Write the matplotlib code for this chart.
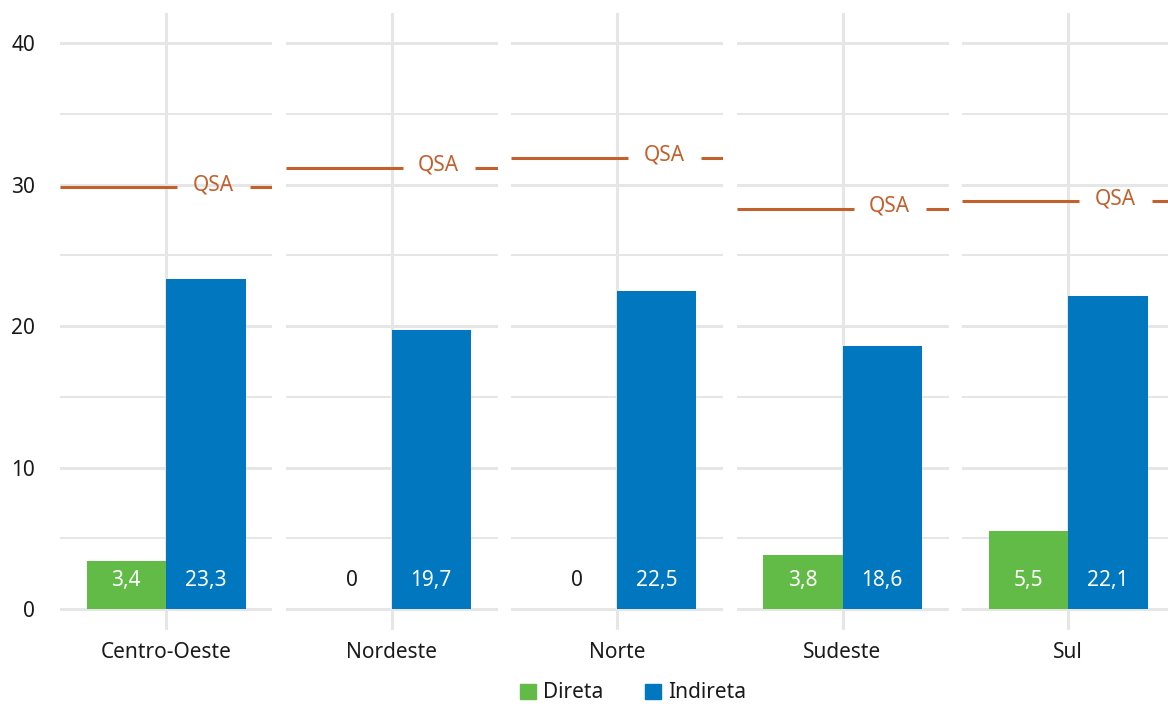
import matplotlib.pyplot as plt
from matplotlib.patches import Patch

plt.rcParams["font.family"] = ["Noto Sans", "DejaVu Sans"]

regions = ["Centro-Oeste", "Nordeste", "Norte", "Sudeste", "Sul"]
direta = [3.4, 0, 0, 3.8, 5.5]
indireta = [23.3, 19.7, 22.5, 18.6, 22.1]
qsa = [29.8, 31.2, 31.9, 28.3, 28.8]

GREEN = "#62BB46"
BLUE = "#0077BF"
ORANGE = "#C2602E"
GRID = "#E6E6E6"
TEXT = "#1A1A1A"
FS = 15

W, H = 1168, 704
fig = plt.figure(figsize=(W / 100, H / 100), dpi=100)

x_lo, x_hi = 0.4, 1.6
y_lo, y_hi = -1.48, 42.12
panel_w = 212
bar_w = 0.45


def fmt(v):
    return f"{v:g}".replace(".", ",")


for i, region in enumerate(regions):
    left = 60 + 225.5 * i
    ax = fig.add_axes([left / W, (H - 630) / H, panel_w / W, 617 / H])
    ax.set_xlim(x_lo, x_hi)
    ax.set_ylim(y_lo, y_hi)
    for s in ax.spines.values():
        s.set_visible(False)

    ax.set_yticks([0, 10, 20, 30, 40])
    ax.set_yticks([5, 15, 25, 35], minor=True)
    ax.set_xticks([1])
    ax.set_xticklabels([region], fontsize=FS, color=TEXT)
    ax.tick_params(axis="both", which="both", length=0)
    ax.tick_params(axis="x", pad=9)
    if i == 0:
        ax.set_yticklabels(["0", "10", "20", "30", "40"], fontsize=FS, color=TEXT)
        ax.tick_params(axis="y", pad=18)
    else:
        ax.set_yticklabels([])
    ax.grid(axis="y", which="major", color=GRID, lw=2.2)
    ax.grid(axis="y", which="minor", color=GRID, lw=1.4)
    ax.grid(axis="x", which="major", color=GRID, lw=2.2)
    ax.set_axisbelow(True)

    ax.bar(1 - bar_w / 2, direta[i], width=bar_w, color=GREEN, zorder=2)
    ax.bar(1 + bar_w / 2, indireta[i], width=bar_w, color=BLUE, zorder=2)
    ax.text(1 - bar_w / 2, 2.0, fmt(direta[i]), ha="center", va="center",
            fontsize=FS, color="white" if direta[i] > 0 else TEXT, zorder=3)
    ax.text(1 + bar_w / 2, 2.0, fmt(indireta[i]), ha="center", va="center",
            fontsize=FS, color="white", zorder=3)

    # QSA reference line with a gap for its label
    span = x_hi - x_lo
    gap_l = x_lo + 0.553 * span
    gap_r = x_lo + 0.894 * span
    ax.plot([x_lo, gap_l], [qsa[i], qsa[i]], color=ORANGE, lw=2.2,
            solid_capstyle="butt", zorder=3)
    ax.plot([gap_r, x_hi], [qsa[i], qsa[i]], color=ORANGE, lw=2.2,
            solid_capstyle="butt", zorder=3)
    ax.text(x_lo + 0.723 * span, qsa[i] + 0.2, "QSA", ha="center", va="center",
            fontsize=FS, color=ORANGE, zorder=3)

handles = [Patch(color=GREEN, label="Direta"), Patch(color=BLUE, label="Indireta")]
fig.legend(handles=handles, loc="center", bbox_to_anchor=(633 / W, 1 - 693 / H),
           ncol=2, frameon=False, fontsize=FS, handlelength=0.75, handleheight=0.75,
           handletextpad=0.35, columnspacing=2.0, labelcolor=TEXT)

fig.savefig("out.png", dpi=100, facecolor="white")
